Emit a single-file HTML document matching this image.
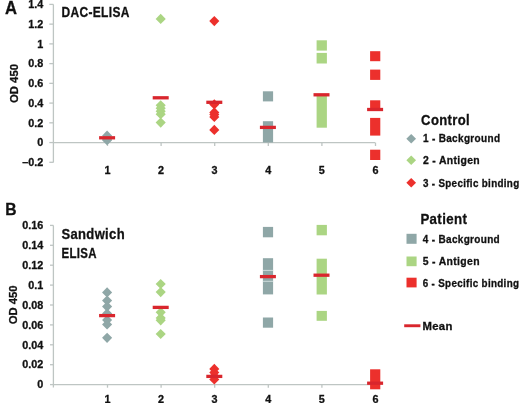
<!DOCTYPE html>
<html><head><meta charset="utf-8"><style>
html,body{margin:0;padding:0;background:#fff;}
body{width:520px;height:403px;overflow:hidden;font-family:"Liberation Sans",sans-serif;}
svg{display:block;will-change:transform;}
</style></head><body>
<svg width="520" height="403" viewBox="0 0 520 403">
<g stroke="#BEC5C3" stroke-width="1.3" fill="none">
<path d="M53.4 4.4V162.5"/>
<path d="M49.3 4.40H53.4"/>
<path d="M49.3 24.14H53.4"/>
<path d="M49.3 43.88H53.4"/>
<path d="M49.3 63.61H53.4"/>
<path d="M49.3 83.35H53.4"/>
<path d="M49.3 103.09H53.4"/>
<path d="M49.3 122.83H53.4"/>
<path d="M49.3 142.56H53.4"/>
<path d="M49.3 162.30H53.4"/>
<path d="M53.4 142.7H375.2"/>
<path d="M107.50 142.6V146"/>
<path d="M161.10 142.6V146"/>
<path d="M214.70 142.6V146"/>
<path d="M268.30 142.6V146"/>
<path d="M321.90 142.6V146"/>
<path d="M375.50 142.6V146"/>
</g>
<g stroke="#BEC5C3" stroke-width="1.3" fill="none">
<path d="M53.4 225.4V387.5"/>
<path d="M50.0 225.40H53.4"/>
<path d="M50.0 245.30H53.4"/>
<path d="M50.0 265.20H53.4"/>
<path d="M50.0 285.10H53.4"/>
<path d="M50.0 305.00H53.4"/>
<path d="M50.0 324.90H53.4"/>
<path d="M50.0 344.80H53.4"/>
<path d="M50.0 364.70H53.4"/>
<path d="M50.0 384.60H53.4"/>
<path d="M53.4 384.6H375.2"/>
<path d="M107.50 384.6V387.7"/>
<path d="M161.10 384.6V387.7"/>
<path d="M214.70 384.6V387.7"/>
<path d="M268.30 384.6V387.7"/>
<path d="M321.90 384.6V387.7"/>
<path d="M375.50 384.6V387.7"/>
</g>
<path d="M107.10 130.59L112.15 135.69L107.10 140.79L102.05 135.69Z" fill="#8FA7A7"/>
<path d="M107.10 132.56L112.15 137.66L107.10 142.76L102.05 137.66Z" fill="#8FA7A7"/>
<path d="M107.10 134.05L112.15 139.15L107.10 144.25L102.05 139.15Z" fill="#8FA7A7"/>
<path d="M107.10 135.03L112.15 140.13L107.10 145.23L102.05 140.13Z" fill="#8FA7A7"/>
<path d="M160.70 13.80L165.75 18.90L160.70 24.00L155.65 18.90Z" fill="#ABD583"/>
<path d="M160.70 100.20L165.75 105.30L160.70 110.40L155.65 105.30Z" fill="#ABD583"/>
<path d="M160.70 103.20L165.75 108.30L160.70 113.40L155.65 108.30Z" fill="#ABD583"/>
<path d="M160.70 106.20L165.75 111.30L160.70 116.40L155.65 111.30Z" fill="#ABD583"/>
<path d="M160.70 109.10L165.75 114.20L160.70 119.30L155.65 114.20Z" fill="#ABD583"/>
<path d="M160.70 117.50L165.75 122.60L160.70 127.70L155.65 122.60Z" fill="#ABD583"/>
<path d="M214.30 16.00L219.35 21.10L214.30 26.20L209.25 21.10Z" fill="#EC302C"/>
<path d="M214.30 99.30L219.35 104.40L214.30 109.50L209.25 104.40Z" fill="#EC302C"/>
<path d="M214.30 107.30L219.35 112.40L214.30 117.50L209.25 112.40Z" fill="#EC302C"/>
<path d="M214.30 109.50L219.35 114.60L214.30 119.70L209.25 114.60Z" fill="#EC302C"/>
<path d="M214.30 111.90L219.35 117.00L214.30 122.10L209.25 117.00Z" fill="#EC302C"/>
<path d="M214.30 124.80L219.35 129.90L214.30 135.00L209.25 129.90Z" fill="#EC302C"/>
<rect x="262.90" y="91.30" width="10.20" height="10.10" fill="#8FA7A7"/>
<rect x="262.90" y="121.20" width="10.20" height="21.30" fill="#8FA7A7"/>
<rect x="316.60" y="40.30" width="10.30" height="10.30" fill="#ABD583"/>
<rect x="316.60" y="52.90" width="10.30" height="10.60" fill="#ABD583"/>
<rect x="316.60" y="94.00" width="10.30" height="33.70" fill="#ABD583"/>
<rect x="370.10" y="51.20" width="10.20" height="10.00" fill="#EC302C"/>
<rect x="370.10" y="69.60" width="10.20" height="10.30" fill="#EC302C"/>
<rect x="370.10" y="100.30" width="10.20" height="9.70" fill="#EC302C"/>
<rect x="370.10" y="117.90" width="10.20" height="17.70" fill="#EC302C"/>
<rect x="370.10" y="149.70" width="10.20" height="10.30" fill="#EC302C"/>
<rect x="99.10" y="136.15" width="16.00" height="3.30" fill="#D9262D"/>
<rect x="152.70" y="96.15" width="16.00" height="3.30" fill="#D9262D"/>
<rect x="206.30" y="100.65" width="16.00" height="3.30" fill="#D9262D"/>
<rect x="259.90" y="125.75" width="16.00" height="3.30" fill="#D9262D"/>
<rect x="313.50" y="93.15" width="16.00" height="3.30" fill="#D9262D"/>
<rect x="367.10" y="107.85" width="16.00" height="3.30" fill="#D9262D"/>
<path d="M107.10 287.30L112.15 292.40L107.10 297.50L102.05 292.40Z" fill="#8FA7A7"/>
<path d="M107.10 295.50L112.15 300.60L107.10 305.70L102.05 300.60Z" fill="#8FA7A7"/>
<path d="M107.10 301.50L112.15 306.60L107.10 311.70L102.05 306.60Z" fill="#8FA7A7"/>
<path d="M107.10 308.40L112.15 313.50L107.10 318.60L102.05 313.50Z" fill="#8FA7A7"/>
<path d="M107.10 314.90L112.15 320.00L107.10 325.10L102.05 320.00Z" fill="#8FA7A7"/>
<path d="M107.10 319.30L112.15 324.40L107.10 329.50L102.05 324.40Z" fill="#8FA7A7"/>
<path d="M107.10 332.70L112.15 337.80L107.10 342.90L102.05 337.80Z" fill="#8FA7A7"/>
<path d="M160.70 278.90L165.75 284.00L160.70 289.10L155.65 284.00Z" fill="#ABD583"/>
<path d="M160.70 287.00L165.75 292.10L160.70 297.20L155.65 292.10Z" fill="#ABD583"/>
<path d="M160.70 307.20L165.75 312.30L160.70 317.40L155.65 312.30Z" fill="#ABD583"/>
<path d="M160.70 312.80L165.75 317.90L160.70 323.00L155.65 317.90Z" fill="#ABD583"/>
<path d="M160.70 315.20L165.75 320.30L160.70 325.40L155.65 320.30Z" fill="#ABD583"/>
<path d="M160.70 328.90L165.75 334.00L160.70 339.10L155.65 334.00Z" fill="#ABD583"/>
<path d="M214.30 363.80L219.35 368.90L214.30 374.00L209.25 368.90Z" fill="#EC302C"/>
<path d="M214.30 367.40L219.35 372.50L214.30 377.60L209.25 372.50Z" fill="#EC302C"/>
<path d="M214.30 370.90L219.35 376.00L214.30 381.10L209.25 376.00Z" fill="#EC302C"/>
<path d="M214.30 374.40L219.35 379.50L214.30 384.60L209.25 379.50Z" fill="#EC302C"/>
<rect x="262.90" y="226.90" width="10.20" height="10.40" fill="#8FA7A7"/>
<rect x="262.90" y="258.20" width="10.20" height="36.20" fill="#8FA7A7"/>
<rect x="262.90" y="269.90" width="10.20" height="1.00" fill="#CFDCDC"/>
<rect x="262.90" y="280.80" width="10.20" height="1.00" fill="#CFDCDC"/>
<rect x="262.90" y="317.50" width="10.20" height="10.20" fill="#8FA7A7"/>
<rect x="316.60" y="224.90" width="10.30" height="10.40" fill="#ABD583"/>
<rect x="316.60" y="258.70" width="10.30" height="35.80" fill="#ABD583"/>
<rect x="316.60" y="310.90" width="10.30" height="9.90" fill="#ABD583"/>
<rect x="370.10" y="369.30" width="10.20" height="20.00" fill="#EC302C"/>
<rect x="99.10" y="313.95" width="16.00" height="3.30" fill="#D9262D"/>
<rect x="152.70" y="305.75" width="16.00" height="3.30" fill="#D9262D"/>
<rect x="206.30" y="374.75" width="16.00" height="3.30" fill="#D9262D"/>
<rect x="259.90" y="274.95" width="16.00" height="3.30" fill="#D9262D"/>
<rect x="313.50" y="273.55" width="16.00" height="3.30" fill="#D9262D"/>
<rect x="367.10" y="381.55" width="16.00" height="3.30" fill="#D9262D"/>
<g fill="#111111" stroke="#111111" stroke-width="0.3" font-family="Liberation Sans, sans-serif" font-weight="bold">
<text x="4.95" y="13.7" font-size="17.9" text-anchor="start" textLength="12.0" lengthAdjust="spacingAndGlyphs">A</text>
<text x="5.3" y="214.8" font-size="17.4" text-anchor="start" textLength="11.3" lengthAdjust="spacingAndGlyphs">B</text>
<text x="43.2" y="8.1" font-size="10.8" text-anchor="end">1.4</text>
<text x="43.2" y="27.84" font-size="10.8" text-anchor="end">1.2</text>
<text x="43.2" y="47.58" font-size="10.8" text-anchor="end">1</text>
<text x="43.2" y="67.31" font-size="10.8" text-anchor="end">0.8</text>
<text x="43.2" y="87.05" font-size="10.8" text-anchor="end">0.6</text>
<text x="43.2" y="106.79" font-size="10.8" text-anchor="end">0.4</text>
<text x="43.2" y="126.53" font-size="10.8" text-anchor="end">0.2</text>
<text x="43.2" y="146.26" font-size="10.8" text-anchor="end">0</text>
<text x="43.2" y="166.0" font-size="10.8" text-anchor="end">&#8211;0.2</text>
<text x="43.2" y="229.1" font-size="10.8" text-anchor="end">0.16</text>
<text x="43.2" y="249.0" font-size="10.8" text-anchor="end">0.14</text>
<text x="43.2" y="268.9" font-size="10.8" text-anchor="end">0.12</text>
<text x="43.2" y="288.8" font-size="10.8" text-anchor="end">0.1</text>
<text x="43.2" y="308.7" font-size="10.8" text-anchor="end">0.08</text>
<text x="43.2" y="328.6" font-size="10.8" text-anchor="end">0.06</text>
<text x="43.2" y="348.5" font-size="10.8" text-anchor="end">0.04</text>
<text x="43.2" y="368.4" font-size="10.8" text-anchor="end">0.02</text>
<text x="43.2" y="388.3" font-size="10.8" text-anchor="end">0</text>
<text x="107.4" y="174.3" font-size="10.8" text-anchor="middle">1</text>
<text x="107.4" y="403.1" font-size="10.8" text-anchor="middle">1</text>
<text x="161.0" y="174.3" font-size="10.8" text-anchor="middle">2</text>
<text x="161.0" y="403.1" font-size="10.8" text-anchor="middle">2</text>
<text x="214.6" y="174.3" font-size="10.8" text-anchor="middle">3</text>
<text x="214.6" y="403.1" font-size="10.8" text-anchor="middle">3</text>
<text x="268.2" y="174.3" font-size="10.8" text-anchor="middle">4</text>
<text x="268.2" y="403.1" font-size="10.8" text-anchor="middle">4</text>
<text x="321.8" y="174.3" font-size="10.8" text-anchor="middle">5</text>
<text x="321.8" y="403.1" font-size="10.8" text-anchor="middle">5</text>
<text x="375.4" y="174.3" font-size="10.8" text-anchor="middle">6</text>
<text x="375.4" y="403.1" font-size="10.8" text-anchor="middle">6</text>
<text x="0" y="0" font-size="11.1" text-anchor="middle" textLength="38.8" lengthAdjust="spacingAndGlyphs" transform="translate(17.7 83.5) rotate(-90)">OD 450</text>
<text x="0" y="0" font-size="11.1" text-anchor="middle" textLength="38.8" lengthAdjust="spacingAndGlyphs" transform="translate(16.6 304.8) rotate(-90)">OD 450</text>
<text x="61.5" y="17.3" font-size="14.6" text-anchor="start" textLength="68.2" lengthAdjust="spacingAndGlyphs" letter-spacing="0.4">DAC-ELISA</text>
<text x="61.4" y="238.8" font-size="14.6" text-anchor="start" textLength="63.6" lengthAdjust="spacingAndGlyphs" letter-spacing="0.4">Sandwich</text>
<text x="61.5" y="257.7" font-size="14.6" text-anchor="start" textLength="35.3" lengthAdjust="spacingAndGlyphs" letter-spacing="0.4">ELISA</text>
<text x="421.1" y="125.3" font-size="14.6" text-anchor="start" textLength="48.9" lengthAdjust="spacingAndGlyphs" letter-spacing="0.4">Control</text>
<text x="420.4" y="223.6" font-size="14.6" text-anchor="start" textLength="46.8" lengthAdjust="spacingAndGlyphs" letter-spacing="0.4">Patient</text>
<text x="422.9" y="141.9" font-size="10.5" text-anchor="start" textLength="77.45" lengthAdjust="spacingAndGlyphs" letter-spacing="0.35">1 - Background</text>
<text x="422.9" y="164.1" font-size="10.5" text-anchor="start" textLength="57.15" lengthAdjust="spacingAndGlyphs" letter-spacing="0.35">2 - Antigen</text>
<text x="422.9" y="186.5" font-size="10.5" text-anchor="start" textLength="96.65" lengthAdjust="spacingAndGlyphs" letter-spacing="0.35">3 - Specific binding</text>
<text x="422.7" y="242.6" font-size="10.5" text-anchor="start" textLength="77.35" lengthAdjust="spacingAndGlyphs" letter-spacing="0.35">4 - Background</text>
<text x="422.7" y="265.2" font-size="10.5" text-anchor="start" textLength="57.15" lengthAdjust="spacingAndGlyphs" letter-spacing="0.35">5 - Antigen</text>
<text x="422.7" y="286.9" font-size="10.5" text-anchor="start" textLength="96.65" lengthAdjust="spacingAndGlyphs" letter-spacing="0.35">6 - Specific binding</text>
<text x="422.4" y="330.2" font-size="10.5" text-anchor="start" textLength="30.35" lengthAdjust="spacingAndGlyphs" letter-spacing="0.35">Mean</text>
</g>
<path d="M411.20 134.00L416.05 138.80L411.20 143.60L406.35 138.80Z" fill="#8FA7A7"/>
<path d="M411.20 155.40L416.05 160.20L411.20 165.00L406.35 160.20Z" fill="#ABD583"/>
<path d="M411.20 177.90L416.05 182.70L411.20 187.50L406.35 182.70Z" fill="#EC302C"/>
<rect x="406.50" y="233.80" width="10.10" height="10.00" fill="#8FA7A7"/>
<rect x="406.50" y="256.50" width="10.10" height="9.70" fill="#ABD583"/>
<rect x="406.50" y="277.70" width="10.10" height="9.70" fill="#EC302C"/>
<rect x="404.20" y="324.30" width="16.20" height="2.90" fill="#D9262D"/>
</svg>
</body></html>
